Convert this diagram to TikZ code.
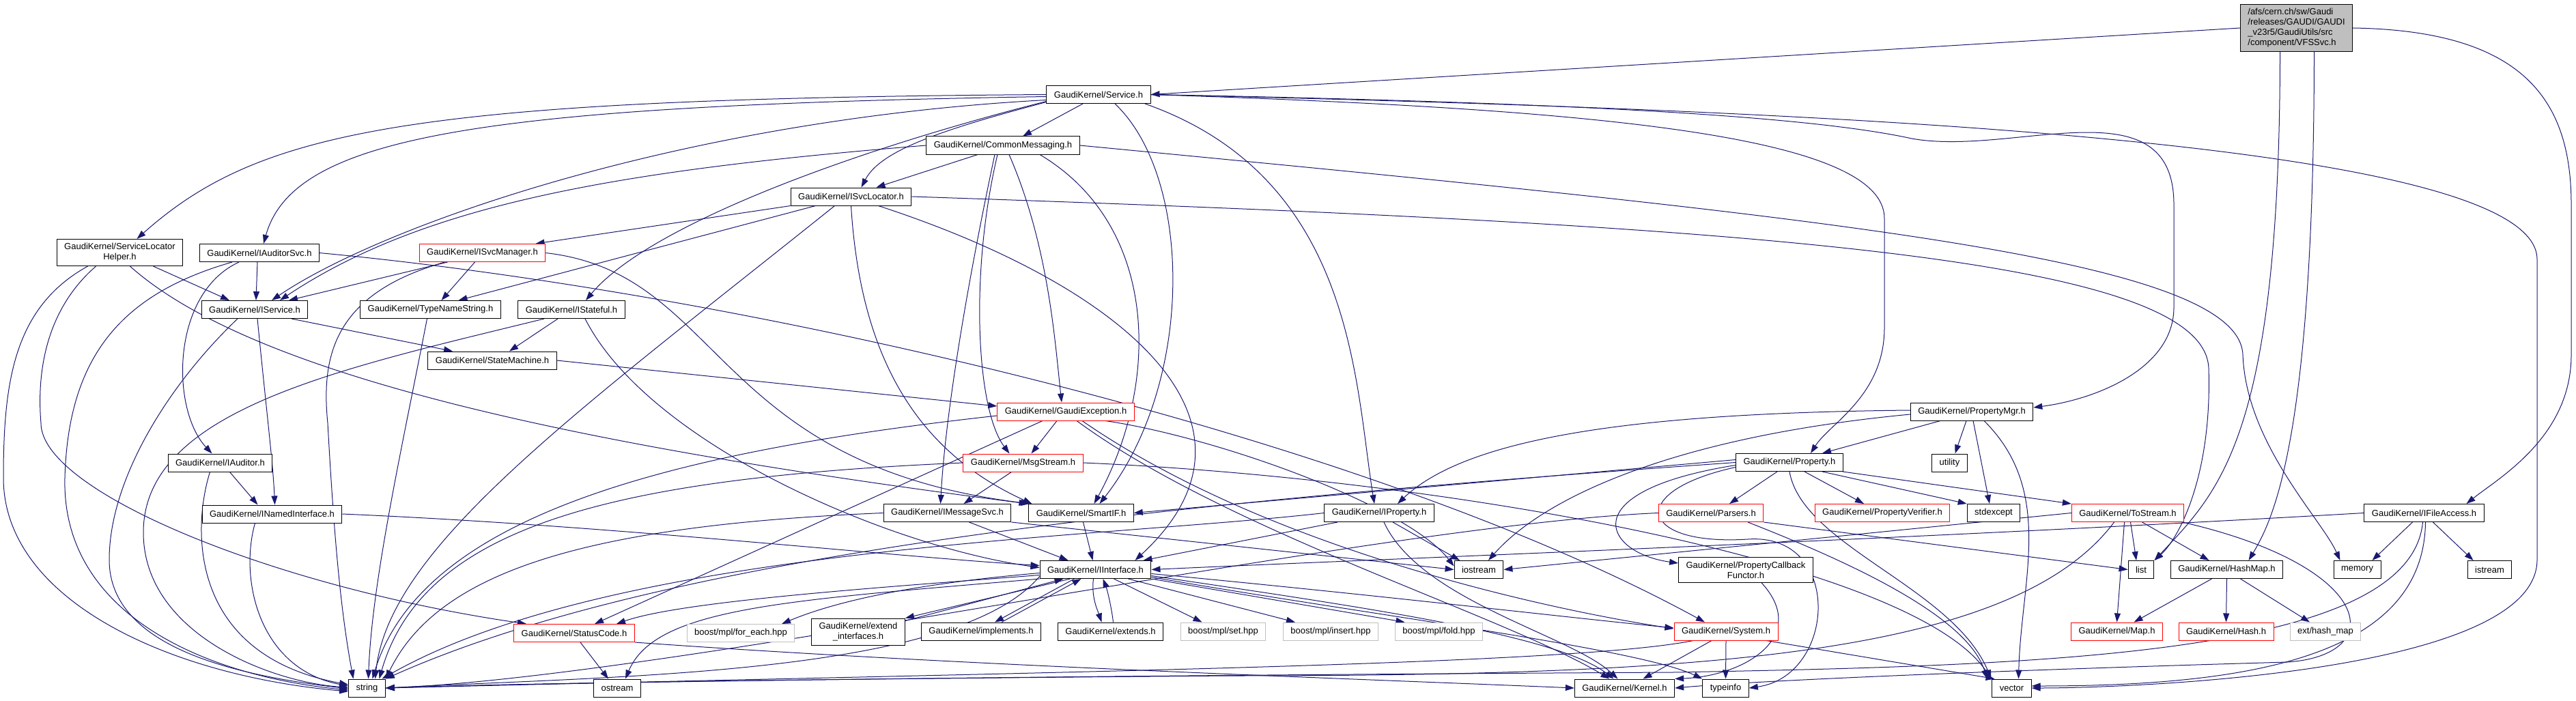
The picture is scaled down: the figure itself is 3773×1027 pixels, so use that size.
\documentclass[tikz,border=0pt]{standalone}
\usepackage{fontspec}
\setmainfont{Liberation Sans}
\usetikzlibrary{arrows.meta}
\definecolor{incblue}{HTML}{191970}
\definecolor{boxgray}{HTML}{BFBFBF}
\pgfdeclarelayer{background}
\pgfsetlayers{background,main}
\tikzset{
  hdr/.style={draw=black, fill=white, line width=1pt, inner xsep=11pt, inner ysep=6pt,
    minimum height=26pt, align=center, font=\fontsize{13pt}{15pt}\selectfont},
  hdrred/.style={hdr, draw=red},
  hdrgray/.style={hdr, draw=boxgray},
  inc/.style={draw=incblue, line width=1pt, -{Triangle[length=13pt,width=9pt]}},
}
\begin{document}
\begin{tikzpicture}[x=1pt,y=-1pt]
  % 図全体の大きさ
  \useasboundingbox (0,0) rectangle (3773,1027);
  % 起点のファイル
  \node[hdr, fill=boxgray, align=left] (vfs) at (3363.5,41) {/afs/cern.ch/sw/Gaudi\\/releases/GAUDI/GAUDI\\\_v23r5/GaudiUtils/src\\/component/VFSSvc.h};
  % 上の段
  \node[hdr] (service) at (1609,138.5) {GaudiKernel/Service.h};
  \node[hdr] (commsg) at (1469,213) {GaudiKernel/CommonMessaging.h};
  \node[hdr] (svcloc) at (1246.5,288) {GaudiKernel/ISvcLocator.h};
  \node[hdr] (slh) at (175.5,370) {GaudiKernel/ServiceLocator\\Helper.h};
  \node[hdr] (audsvc) at (380,370.5) {GaudiKernel/IAuditorSvc.h};
  \node[hdrred] (svcmgr) at (706.5,370.5) {GaudiKernel/ISvcManager.h};
  \node[hdr] (iservice) at (373,453.5) {GaudiKernel/IService.h};
  \node[hdr] (typename) at (630.5,453.5) {GaudiKernel/TypeNameString.h};
  \node[hdr] (stateful) at (837,453.5) {GaudiKernel/IStateful.h};
  \node[hdr] (statemach) at (721,528) {GaudiKernel/StateMachine.h};
  % 中の段
  \node[hdrred] (gexc) at (1561,603) {GaudiKernel/GaudiException.h};
  \node[hdr] (propmgr) at (2888,603) {GaudiKernel/PropertyMgr.h};
  \node[hdr] (auditor) at (322.5,678) {GaudiKernel/IAuditor.h};
  \node[hdrred] (msgstream) at (1498.5,678) {GaudiKernel/MsgStream.h};
  \node[hdr] (property) at (2621,677.5) {GaudiKernel/Property.h};
  \node[hdr] (utility) at (2855.5,678) {utility};
  \node[hdr] (named) at (398.5,753) {GaudiKernel/INamedInterface.h};
  \node[hdr] (imsgsvc) at (1387.5,751.5) {GaudiKernel/IMessageSvc.h};
  \node[hdr] (smartif) at (1583.5,751.5) {GaudiKernel/SmartIF.h};
  \node[hdr] (iproperty) at (2020,751.5) {GaudiKernel/IProperty.h};
  \node[hdrred] (parsers) at (2506,751.5) {GaudiKernel/Parsers.h};
  \node[hdrred] (propverif) at (2757,751.5) {GaudiKernel/PropertyVerifier.h};
  \node[hdr] (stdexcept) at (2920,751.5) {stdexcept};
  \node[hdrred] (tostream) at (3116.5,751.5) {GaudiKernel/ToStream.h};
  \node[hdr] (ifile) at (3550.5,751.5) {GaudiKernel/IFileAccess.h};
  \node[hdr] (iinterface) at (1604.5,834.5) {GaudiKernel/IInterface.h};
  \node[hdr] (iostream) at (2166,834.5) {iostream};
  \node[hdr] (pcf) at (2557,835) {GaudiKernel/PropertyCallback\\Functor.h};
  \node[hdr] (list) at (3136,834.5) {list};
  \node[hdr] (hashmap) at (3261.5,834.5) {GaudiKernel/HashMap.h};
  \node[hdr] (memory) at (3452.5,834.5) {memory};
  \node[hdr] (istream) at (3646.5,834.5) {istream};
  % 下の段
  \node[hdrred] (statuscode) at (841,927.5) {GaudiKernel/StatusCode.h};
  \node[hdrgray] (foreach) at (1085,927.5) {boost/mpl/for\_each.hpp};
  \node[hdr] (extendif) at (1257,925.5) {GaudiKernel/extend\\\_interfaces.h};
  \node[hdr] (implements) at (1437,925) {GaudiKernel/implements.h};
  \node[hdr] (extends) at (1626.5,925) {GaudiKernel/extends.h};
  \node[hdrgray] (mplset) at (1791.5,925) {boost/mpl/set.hpp};
  \node[hdrgray] (mplinsert) at (1949,925) {boost/mpl/insert.hpp};
  \node[hdrgray] (mplfold) at (2107.5,925) {boost/mpl/fold.hpp};
  \node[hdrred] (system) at (2528,925) {GaudiKernel/System.h};
  \node[hdrred] (map) at (3100.5,925) {GaudiKernel/Map.h};
  \node[hdrred] (hash) at (3260.5,925) {GaudiKernel/Hash.h};
  \node[hdrgray] (hashext) at (3406,925) {ext/hash\_map};
  \node[hdr] (string) at (537.5,1008) {string};
  \node[hdr] (ostream) at (904,1008) {ostream};
  \node[hdr] (kernel) at (2379.5,1008) {GaudiKernel/Kernel.h};
  \node[hdr] (typeinfo) at (2527.5,1008) {typeinfo};
  \node[hdr] (vector) at (2946.5,1008) {vector};

  \begin{pgfonlayer}{background}
  % VFSSvc.h のインクルード
  \draw[inc] (vfs.west) -- (service.east);
  \draw[inc] ([xshift=-24pt]vfs.south) .. controls (3339,640) and (3250,720) .. (list.north east);
  \draw[inc] ([xshift=26pt]vfs.south) .. controls (3389,640) and (3330,760) .. ([xshift=32pt]hashmap.north);
  \draw[inc] (vfs.east) .. controls (3700,45) and (3766,150) .. (3766,300) -- (3766,520) .. controls (3766,640) and (3660,700) .. ([xshift=62pt]ifile.north);
  % Service.h のインクルード
  \draw[inc] (service.west) .. controls (600,145) and (380,190) .. ([xshift=25pt]slh.north);
  \draw[inc] ([yshift=-3pt]service.west) .. controls (700,155) and (430,200) .. ([xshift=6pt]audsvc.north);
  \draw[inc] ([yshift=-8pt]service.west) .. controls (1000,175) and (560,330) .. ([xshift=25pt]iservice.north);
  \draw[inc] ([yshift=-10pt]service.west) .. controls (1250,220) and (950,330) .. ([xshift=21pt]stateful.north);
  \draw[inc] ([yshift=-11pt]service.west) .. controls (1380,190) and (1290,220) .. ([xshift=15pt]svcloc.north);
  \draw[inc] ([xshift=-23pt]service.south) -- ([xshift=29pt]commsg.north);
  \draw[inc] ([xshift=24pt]service.south) .. controls (1747,260) and (1750,560) .. ([xshift=27pt]smartif.north);
  \draw[inc] ([xshift=68pt]service.south) .. controls (1984,260) and (1984,560) .. ([xshift=-7pt]iproperty.north);
  \draw[inc] (service.east) .. controls (2350,160) and (2760,200) .. (2760,320) -- (2760,480) .. controls (2760,580) and (2680,620) .. ([xshift=31pt]property.north);
  \draw[inc] (service.east) .. controls (2300,150) and (2650,170) .. (2800,203) .. controls (2950,230) and (3184,120) .. (3184,300) -- (3184,450) .. controls (3184,540) and (3070,585) .. ([yshift=6pt]propmgr.east);
  \draw[inc] (service.east) .. controls (2600,160) and (3716,200) .. (3716,380) -- (3716,820) .. controls (3716,990) and (3100,1008) .. (vector.east);
  % CommonMessaging.h のインクルード
  \draw[inc] ([xshift=-37pt]commsg.south) -- ([xshift=37pt]svcloc.north);
  \draw[inc] (commsg.west) .. controls (900,250) and (620,300) .. ([xshift=37pt]iservice.north);
  \draw[inc] ([xshift=-12pt]commsg.south) .. controls (1420,400) and (1385,600) .. ([xshift=-10pt]imsgsvc.north);
  \draw[inc] ([xshift=-8pt]commsg.south) .. controls (1420,400) and (1430,600) .. ([xshift=-20pt]msgstream.north);
  \draw[inc] ([xshift=9pt]commsg.south) .. controls (1536,360) and (1545,500) .. ([xshift=-6pt]gexc.north);
  \draw[inc] ([xshift=54pt]commsg.south) .. controls (1697,330) and (1700,560) .. ([xshift=19pt]smartif.north);
  \draw[inc] (commsg.east) .. controls (2700,320) and (3280,380) .. (3285,520) .. controls (3290,650) and (3400,760) .. ([xshift=-25pt]memory.north);
  % ISvcLocator.h のインクルード
  \draw[inc] (svcloc.south west) -- ([xshift=78pt]svcmgr.north);
  \draw[inc] ([xshift=-52pt]svcloc.south) -- ([xshift=41pt]typename.north);
  \draw[inc] ([xshift=-24pt]svcloc.south) .. controls (850,600) and (570,800) .. ([xshift=12pt]string.north);
  \draw[inc] (svcloc.south) .. controls (1260,520) and (1340,660) .. ([xshift=-72pt]smartif.north);
  \draw[inc] ([xshift=40pt]svcloc.south) .. controls (1650,420) and (1880,620) .. ([xshift=58pt]iinterface.north);
  \draw[inc] (svcloc.east) .. controls (2600,330) and (3230,380) .. (3235,540) .. controls (3240,700) and (3190,790) .. (list.north east);
  % ServiceLocatorHelper.h のインクルード
  \draw[inc] ([xshift=-47pt]slh.south) .. controls (20,450) and (5,560) .. (5,700) .. controls (5,880) and (250,990) .. ([yshift=-5pt]string.west);
  \draw[inc] ([xshift=-35pt]slh.south) .. controls (60,460) and (55,560) .. (60,620) .. controls (60,720) and (400,860) .. ([xshift=-70pt]statuscode.north);
  \draw[inc] ([xshift=49pt]slh.south) -- ([xshift=-37pt]iservice.north);
  \draw[inc] ([xshift=15pt]slh.south) .. controls (380,560) and (900,660) .. ([xshift=-78pt]smartif.north);
  % IAuditorSvc.h のインクルード
  \draw[inc] ([xshift=-3pt]audsvc.south) -- ([xshift=2pt]iservice.north);
  \draw[inc] ([xshift=-30pt]audsvc.south) .. controls (250,430) and (250,600) .. ([xshift=-12pt]auditor.north);
  \draw[inc] ([xshift=-40pt]audsvc.south) .. controls (180,430) and (100,520) .. (95,700) .. controls (90,900) and (300,990) .. ([yshift=-3pt]string.west);
  \draw[inc] (audsvc.east) .. controls (1100,430) and (2000,640) .. ([xshift=-31pt]system.north);
  % ISvcManager.h のインクルード
  \draw[inc] ([xshift=-51pt]svcmgr.south) -- ([xshift=50pt]iservice.north);
  \draw[inc] ([xshift=-11pt]svcmgr.south) -- ([xshift=16pt]typename.north);
  \draw[inc] ([xshift=-55pt]svcmgr.south) .. controls (490,430) and (470,520) .. (480,620) .. controls (490,800) and (500,900) .. ([xshift=-20pt]string.north);
  \draw[inc] (svcmgr.east) .. controls (1060,400) and (1040,680) .. ([xshift=-75pt]smartif.north);
  % IService.h のインクルード
  \draw[inc] ([xshift=-25pt]iservice.south) .. controls (250,560) and (160,700) .. (160,820) .. controls (160,950) and (350,990) .. ([yshift=-1pt]string.west);
  \draw[inc] ([xshift=4pt]iservice.south) .. controls (390,600) and (400,680) .. ([xshift=4pt]named.north);
  \draw[inc] ([xshift=54pt]iservice.south) -- ([xshift=-58pt]statemach.north);
  % IStateful.h のインクルード
  \draw[inc] ([xshift=-20pt]stateful.south) -- ([xshift=25pt]statemach.north);
  \draw[inc] ([xshift=-40pt]stateful.south) .. controls (500,540) and (210,600) .. (210,780) .. controls (210,930) and (400,1000) .. ([yshift=1pt]string.west);
  \draw[inc] ([xshift=20pt]stateful.south) .. controls (950,650) and (1300,800) .. ([yshift=3pt]iinterface.west);
  % StateMachine.h のインクルード
  \draw[inc] (statemach.east) -- ([yshift=8pt]gexc.west);
  % GaudiException.h のインクルード
  \draw[inc] ([xshift=-13pt]gexc.south) -- ([xshift=12pt]msgstream.north);
  \draw[inc] ([yshift=-6pt]gexc.west) .. controls (1000,660) and (620,750) .. ([xshift=8pt]string.north);
  \draw[inc] ([xshift=-34pt]gexc.south) -- ([xshift=30pt]statuscode.north);
  \draw[inc] ([xshift=16pt]gexc.south) .. controls (1800,780) and (2200,900) .. ([xshift=-22pt]kernel.north);
  \draw[inc] ([xshift=24pt]gexc.south) .. controls (1850,800) and (2250,890) .. ([yshift=4pt]system.west);
  \draw[inc] ([xshift=58pt]gexc.south) .. controls (1780,640) and (2060,740) .. ([yshift=5pt]iostream.west);
  % MsgStream.h のインクルード
  \draw[inc] ([xshift=-17pt]msgstream.south) -- ([xshift=24pt]imsgsvc.north);
  \draw[inc] (msgstream.west) .. controls (900,700) and (620,770) .. ([xshift=18pt]string.north);
  \draw[inc] (msgstream.east) .. controls (2100,700) and (2800,820) .. ([xshift=-30pt]vector.north);
  % IMessageSvc.h のインクルード
  \draw[inc] ([xshift=32pt]imsgsvc.south) -- ([xshift=-40pt]iinterface.north);
  \draw[inc] (imsgsvc.west) .. controls (850,770) and (640,840) .. (string.north east);
  \draw[inc] (imsgsvc.south east) -- (iostream.west);
  % SmartIF.h のインクルード
  \draw[inc] ([xshift=3pt]smartif.south) -- ([xshift=-4pt]iinterface.north);
  % IProperty.h のインクルード
  \draw[inc] ([xshift=-61pt]iproperty.south) -- ([xshift=70pt]iinterface.north);
  \draw[inc] ([xshift=20pt]iproperty.south) -- ([xshift=-28pt]iostream.north);
  \draw[inc] (iproperty.west) .. controls (1600,790) and (900,800) .. ([xshift=22pt]string.north);
  \draw[inc] ([xshift=7pt]iproperty.south) .. controls (2080,880) and (2300,930) .. ([xshift=-10pt]kernel.north);
  % Property.h のインクルード
  \draw[inc] ([yshift=4pt]property.west) -- (smartif.east);
  \draw[inc] (property.west) .. controls (1800,730) and (1000,800) .. (string.north east);
  \draw[inc] ([yshift=-4pt]property.west) .. controls (2300,720) and (2350,810) .. ([yshift=10pt]pcf.west);
  \draw[inc] ([yshift=-7pt]property.west) .. controls (2380,720) and (2400,800) .. (2560,790) .. controls (2700,780) and (2690,990) .. (typeinfo.east);
  \draw[inc] (property.south) .. controls (2640,800) and (2860,860) .. ([xshift=-30pt]vector.north);
  \draw[inc] ([xshift=-18pt]property.south) -- ([xshift=27pt]parsers.north);
  \draw[inc] ([xshift=22pt]property.south) -- ([xshift=-27pt]propverif.north);
  \draw[inc] ([xshift=48pt]property.south) -- (stdexcept.north west);
  \draw[inc] ([xshift=78pt]property.south) -- (tostream.north west);
  % PropertyMgr.h のインクルード
  \draw[inc] ([xshift=-46pt]propmgr.south) -- ([xshift=48pt]property.north);
  \draw[inc] ([xshift=-8pt]propmgr.south) -- ([xshift=8pt]utility.north);
  \draw[inc] ([xshift=2pt]propmgr.south) -- ([xshift=-6pt]stdexcept.north);
  \draw[inc] ([xshift=18pt]propmgr.south) .. controls (3010,720) and (2960,850) .. ([xshift=10pt]vector.north);
  \draw[inc] ([yshift=2pt]propmgr.west) .. controls (2400,605) and (2150,640) .. ([xshift=27pt]iproperty.north);
  \draw[inc] ([yshift=-4pt]propmgr.west) .. controls (2450,640) and (2260,730) .. ([xshift=14pt]iostream.north);
  % Parsers.h のインクルード
  \draw[inc] (parsers.west) .. controls (2000,770) and (1000,990) .. (string.east);
  \draw[inc] (parsers.south east) -- (list.west);
  \draw[inc] ([xshift=54pt]parsers.south) .. controls (2700,820) and (2880,900) .. ([xshift=-36pt]vector.north);
  % PropertyCallbackFunctor.h のインクルード
  \draw[inc] ([xshift=23pt]pcf.south) .. controls (2650,930) and (2560,990) .. (kernel.north east);
  % ToStream.h のインクルード
  \draw[inc] (tostream.west) -- (iostream.east);
  \draw[inc] ([xshift=4pt]tostream.south) -- ([xshift=-7pt]list.north);
  \draw[inc] ([xshift=-5pt]tostream.south) -- (map.north);
  \draw[inc] ([xshift=21pt]tostream.south) -- ([xshift=-26pt]hashmap.north);
  \draw[inc] ([xshift=-20pt]tostream.south) .. controls (2950,960) and (2500,990) .. (1800,990) .. controls (1200,995) and (800,1000) .. (string.east);
  \draw[inc] ([xshift=80pt]tostream.south) .. controls (3480,830) and (3500,960) .. (3350,970) .. controls (3000,980) and (2600,995) .. (kernel.east);
  % IFileAccess.h のインクルード
  \draw[inc] ([xshift=-17pt]ifile.south) -- ([xshift=22pt]memory.north);
  \draw[inc] ([xshift=13pt]ifile.south) -- ([xshift=-24pt]istream.north);
  \draw[inc] ([xshift=2pt]ifile.south) .. controls (3550,960) and (3300,1005) .. ([yshift=3pt]vector.east);
  \draw[inc] ([xshift=-2pt]ifile.south) .. controls (3530,960) and (3000,975) .. (2450,985) .. controls (1500,990) and (800,1000) .. (string.east);
  \draw[inc] (ifile.west) .. controls (2800,790) and (2000,820) .. (iinterface.east);
  % HashMap.h のインクルード
  \draw[inc] ([xshift=-22pt]hashmap.south) -- ([xshift=25pt]map.north);
  \draw[inc] (hashmap.south) -- (hash.north);
  \draw[inc] ([xshift=20pt]hashmap.south) -- ([xshift=-23pt]hashext.north);
  % System.h のインクルード
  \draw[inc] ([xshift=-48pt]system.south) .. controls (2300,975) and (1500,985) .. (string.east);
  \draw[inc] ([xshift=-21pt]system.south) -- ([xshift=27pt]kernel.north);
  \draw[inc] (system.south) -- (typeinfo.north);
  \draw[inc] ([xshift=59pt]system.south) -- ([xshift=-25pt]vector.north);
  % StatusCode.h のインクルード
  \draw[inc] ([xshift=9pt]statuscode.south) -- ([xshift=-13pt]ostream.north);
  \draw[inc] (statuscode.south east) .. controls (1400,975) and (2000,995) .. (kernel.west);
  % IInterface.h のインクルード
  \draw[inc] ([xshift=-37pt]iinterface.south) -- (extendif.north east);
  \draw[inc] ([yshift=-4pt]extendif.north east) -- ([xshift=-47pt]iinterface.south);
  \draw[inc] ([xshift=-31pt]iinterface.south) -- ([xshift=20pt]implements.north);
  \draw[inc] ([xshift=30pt]implements.north) -- ([xshift=-21pt]iinterface.south);
  \draw[inc] ([xshift=-3pt]iinterface.south) .. controls (1598,875) and (1608,895) .. ([xshift=-13pt]extends.north);
  \draw[inc] ([xshift=4pt]extends.north) .. controls (1628,890) and (1622,865) .. ([xshift=11pt]iinterface.south);
  \draw[inc] ([yshift=-5pt]iinterface.west) .. controls (1400,850) and (1250,870) .. ([xshift=60pt]foreach.north);
  \draw[inc] ([yshift=-8pt]iinterface.west) .. controls (1300,860) and (1000,880) .. ([xshift=62pt]statuscode.north);
  \draw[inc] (iinterface.south west) .. controls (1150,880) and (960,890) .. ([xshift=12pt]ostream.north);
  \draw[inc] ([yshift=-10pt]iinterface.west) .. controls (1400,990) and (900,990) .. (string.east);
  \draw[inc] ([xshift=27pt]iinterface.south) -- ([xshift=-31pt]mplset.north);
  \draw[inc] ([xshift=48pt]iinterface.south) -- ([xshift=-52pt]mplinsert.north);
  \draw[inc] (iinterface.south east) -- ([xshift=-50pt]mplfold.north);
  \draw[inc] ([yshift=-6pt]iinterface.east) .. controls (2000,870) and (2300,905) .. ([yshift=5pt]system.west);
  \draw[inc] ([yshift=-9pt]iinterface.east) .. controls (2000,890) and (2280,930) .. ([xshift=-16pt]kernel.north);
  \draw[inc] ([yshift=-11pt]iinterface.east) .. controls (2000,900) and (2400,950) .. (typeinfo.north west);
  % INamedInterface.h のインクルード
  \draw[inc] (named.east) .. controls (900,770) and (1300,815) .. ([yshift=6pt]iinterface.west);
  \draw[inc] ([xshift=-25pt]named.south) .. controls (350,850) and (380,980) .. ([yshift=3pt]string.west);
  % IAuditor.h のインクルード
  \draw[inc] ([xshift=14pt]auditor.south) -- ([xshift=-21pt]named.north);
  \draw[inc] ([xshift=-15pt]auditor.south) .. controls (280,780) and (280,960) .. ([yshift=5pt]string.west);
  % TypeNameString.h のインクルード
  \draw[inc] ([xshift=-5pt]typename.south) .. controls (590,650) and (545,850) .. ([xshift=2pt]string.north);
  \end{pgfonlayer}
\end{tikzpicture}
\end{document}
